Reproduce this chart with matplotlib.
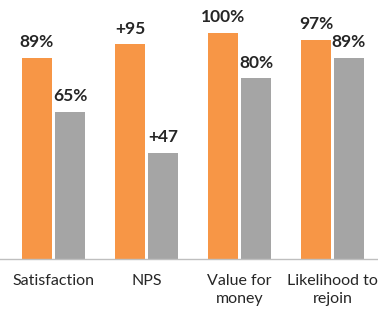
import matplotlib
matplotlib.use("Agg")
import matplotlib.pyplot as plt
import numpy as np

categories = ["Satisfaction", "NPS", "Value for\nmoney", "Likelihood to\nrejoin"]
series_a = [89, 95, 100, 97]
series_b = [65, 47, 80, 89]
labels_a = ["89%", "+95", "100%", "97%"]
labels_b = ["65%", "+47", "80%", "89%"]

plt.rcParams['font.family'] = ['Lato', 'DejaVu Sans']

fig = plt.figure(figsize=(3.78, 3.10), dpi=100)
ax = fig.add_axes([0, 0.1645, 1, 0.802])

x = np.arange(len(categories))
w = 30 / 93
off = 33 / 2 / 93
ax.bar(x - off, series_a, width=w, color="#F79646")
ax.bar(x + off, series_b, width=w, color="#A5A5A5")

for xi, v, t in zip(x, series_a, labels_a):
    ax.annotate(t, (xi - off, v), xytext=(0, 5.5), textcoords="offset points",
                ha="center", va="bottom", fontsize=12.5, fontweight="bold", color="#262626")
for xi, v, t in zip(x, series_b, labels_b):
    ax.annotate(t, (xi + off, v), xytext=(0, 5.5), textcoords="offset points",
                ha="center", va="bottom", fontsize=12.5, fontweight="bold", color="#262626")

ax.set_xlim(-53.5 / 93, (378 - 53.5) / 93)
ax.set_ylim(0, 110)
ax.set_xticks(x)
ax.set_xticklabels(categories, fontsize=11.5, color="#262626", linespacing=1.35)
ax.tick_params(axis="x", length=0, pad=11)
ax.set_yticks([])
for s in ["top", "right", "left"]:
    ax.spines[s].set_visible(False)
ax.spines["bottom"].set_color("#BFBFBF")
ax.spines["bottom"].set_linewidth(1.0)

fig.savefig("out.png", dpi=100)
